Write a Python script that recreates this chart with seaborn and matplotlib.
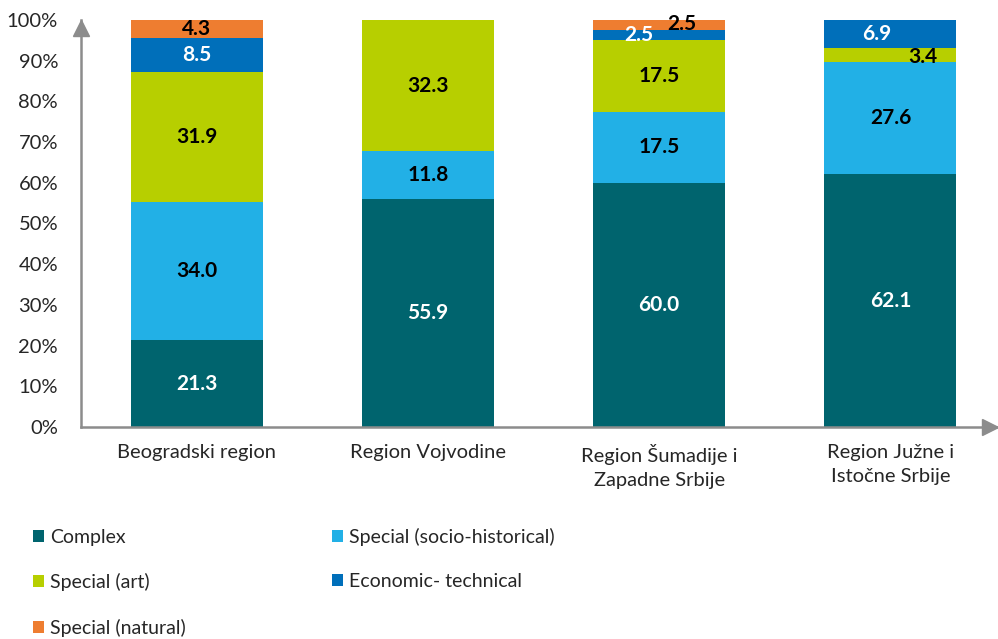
import numpy as np
import pandas as pd
import matplotlib
matplotlib.use("Agg")
import matplotlib.pyplot as plt
import matplotlib.transforms as mtransforms
import seaborn as sns
from matplotlib.patches import Patch

regions = ["Beogradski region", "Region Vojvodine",
           "Region Šumadije i\nZapadne Srbije", "Region Južne i\nIstočne Srbije"]
series = ["Complex", "Special (socio-historical)", "Special (art)",
          "Economic- technical", "Special (natural)"]
complex_vals = [21.3, 55.9, 60.0, 62.1]
socio_vals = [34.0, 11.8, 17.5, 27.6]
art_vals = [31.9, 32.3, 17.5, 3.4]
econ_vals = [8.5, 0.0, 2.5, 6.9]
natural_vals = [4.3, 0.0, 2.5, 0.0]

colors = ["#00646E", "#22B0E6", "#B7CF00", "#006FBA", "#EE7D30"]
text_colors = ["white", "black", "black", "white", "black"]

sns.set_style("white")
plt.rcParams["font.family"] = ["Lato", "DejaVu Sans"]

df = pd.DataFrame({"region": regions, "Complex": complex_vals,
                   "Special (socio-historical)": socio_vals, "Special (art)": art_vals,
                   "Economic- technical": econ_vals, "Special (natural)": natural_vals})
cum = df[series].cumsum(axis=1)

fig = plt.figure(figsize=(9.98, 6.39), dpi=100)
ax = fig.add_axes([81 / 998, 1 - 427 / 639, 1 - 81 / 998, 407 / 639])

# draw cumulative totals from the top down so each segment overlays the one above
for name, col in reversed(list(zip(series, colors))):
    sns.barplot(data=cum.assign(region=regions), x="region", y=name, color=col,
                width=0.571, saturation=1, ax=ax, linewidth=0)

# per-label nudges (x in category units, y in percent) for thin segments
nudges = {(2, 3): (-0.09, 0.0), (2, 4): (0.10, 0.3), (3, 2): (0.14, -0.5),
          (3, 3): (-0.06, 0.0)}
for i in range(len(regions)):
    base = 0.0
    for j, name in enumerate(series):
        v = df[name][i]
        if v > 0:
            dx, dy = nudges.get((i, j), (0, 0))
            ax.text(i + dx, base + v / 2 + dy, f"{v:.1f}", ha="center", va="center",
                    color=text_colors[j], fontsize=15, fontweight="bold")
        base += v

ax.set_xlim(-0.5, 3.465)
ax.set_ylim(0, 100)
ax.set_yticks(np.arange(0, 101, 10))
ax.set_yticklabels([f"{t}%" for t in range(0, 101, 10)])
ax.set_xlabel("")
ax.set_ylabel("")
ax.set_xticks(range(len(regions)))
ax.set_xticklabels(regions, linespacing=1.55)
ax.set_xticks(np.arange(0.5, 3.5, 1), minor=True)
ax.tick_params(axis="x", which="major", length=0, pad=12, labelsize=14.5, labelcolor="#262626")
ax.tick_params(axis="x", which="minor", length=5, width=1.5, color="#8c8c8c", direction="out")
ax.tick_params(axis="y", length=6, width=1.5, color="#8c8c8c", direction="out",
               labelsize=14.5, labelcolor="#262626", pad=10.5)
for s in ["top", "right"]:
    ax.spines[s].set_visible(False)
for s in ["left", "bottom"]:
    ax.spines[s].set_color("#8c8c8c")
    ax.spines[s].set_linewidth(1.8)
up = mtransforms.offset_copy(ax.transAxes, fig=fig, x=0, y=-6, units="points")
right = mtransforms.offset_copy(ax.transAxes, fig=fig, x=-6, y=0, units="points")
ax.plot([0], [1], marker="^", color="#8c8c8c", markersize=11, transform=up, clip_on=False)
ax.plot([1], [0], marker=">", color="#8c8c8c", markersize=11, transform=right, clip_on=False)

order = [0, 2, 4, 1, 3]
handles = [Patch(facecolor=colors[k], edgecolor="none") for k in order]
labels = [series[k] for k in order]
fig.legend(handles, labels, loc="upper left", bbox_to_anchor=(17 / 998, 1 - 512 / 639),
           ncol=2, frameon=False, fontsize=14, handlelength=0.6, handleheight=0.6,
           handletextpad=0.3, labelspacing=1.41, columnspacing=7.5, labelcolor="#262626",
           borderpad=0.3)

fig.savefig("out.png", dpi=100)
